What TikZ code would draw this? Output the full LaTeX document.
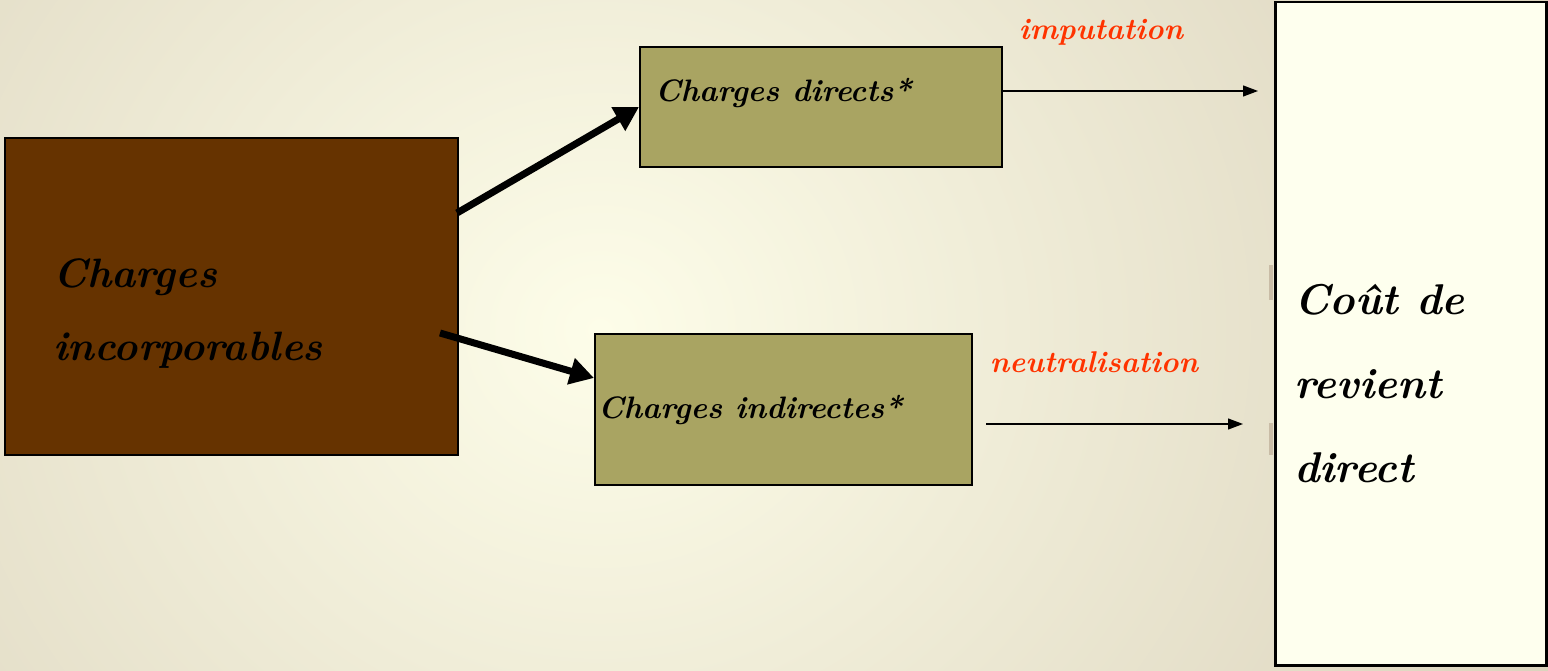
\documentclass[tikz,border=0pt]{standalone}
\usetikzlibrary{arrows.meta}
\definecolor{brownbox}{HTML}{663300}
\definecolor{olivebox}{HTML}{A9A462}
\definecolor{creambox}{HTML}{FEFFEE}
\definecolor{redlab}{HTML}{FF3300}
\definecolor{bgin}{HTML}{FDFDE9}
\definecolor{bgout}{HTML}{D2C8B1}
\definecolor{shadowgrey}{HTML}{C9BCA6}
\tikzset{
  box/.style={draw=black, line width=2pt, inner sep=0pt, anchor=north west},
  bigtxt/.style={font=\fontsize{41}{73}\selectfont\bfseries\itshape, anchor=base west, inner sep=0pt, align=left},
  midtxt/.style={font=\fontsize{31}{36}\selectfont\bfseries\itshape, anchor=base west, inner sep=0pt},
  redtxt/.style={font=\fontsize{30}{32}\selectfont\bfseries\itshape, text=redlab, anchor=base, inner sep=0pt},
  thick arrow/.style={line width=7pt, -{Triangle[length=24pt,width=26pt]}},
  thin arrow/.style={line width=1.2pt, -{Triangle[length=15pt,width=11pt]}}
}
\begin{document}
\begin{tikzpicture}[x=1pt,y=-1pt]
\useasboundingbox (0,0) rectangle (1548,671);
\begin{scope}
\clip (0,0) rectangle (1548,671);
\shade[inner color=bgin, outer color=bgout] (-700,-870) rectangle (1900,1530);
\end{scope}
% small shadow marks beside the right box
\fill[shadowgrey] (1269,265) rectangle (1273,300);
\fill[shadowgrey] (1269,423) rectangle (1273,455);
% boxes
\node[box, fill=brownbox, minimum width=453pt, minimum height=317pt] (inc) at (4,137) {};
\node[box, fill=olivebox, minimum width=362pt, minimum height=120pt] (dir) at (639,46) {};
\node[box, fill=olivebox, minimum width=377pt, minimum height=151pt] (ind) at (594,333) {};
\node[box, fill=creambox, line width=2.5pt, minimum width=271pt, minimum height=663pt] (cout) at (1274,1) {};
% texts (base anchor = baseline of last line)
\node[bigtxt] (tinc) at (53,360) {Charges\\incorporables};
\node[midtxt] (tdir) at (655,102) {Charges directs*};
\node[midtxt] (tind) at (598,418) {Charges indirectes*};
\node[bigtxt, font=\fontsize{43}{84}\selectfont\bfseries\itshape] (tcout) at (1294,482) {Co\^ut de\\revient\\direct};
\node[redtxt] (limp) at (1101,40) {imputation};
\node[redtxt] (lneu) at (1094,372) {neutralisation};
% connectors
\coordinate (s1) at (457,213);
\coordinate (s2) at (440,333);
\coordinate (e2) at (594,378);
\draw[thick arrow] (s1) -- (dir.west);
\draw[thick arrow] (s2) -- (e2);
\coordinate (a1) at (1003,91);
\coordinate (b1) at (1258,91);
\coordinate (a2) at (986,424);
\coordinate (b2) at (1243,424);
\draw[thin arrow] (a1) -- (b1);
\draw[thin arrow] (a2) -- (b2);
\end{tikzpicture}
\end{document}
